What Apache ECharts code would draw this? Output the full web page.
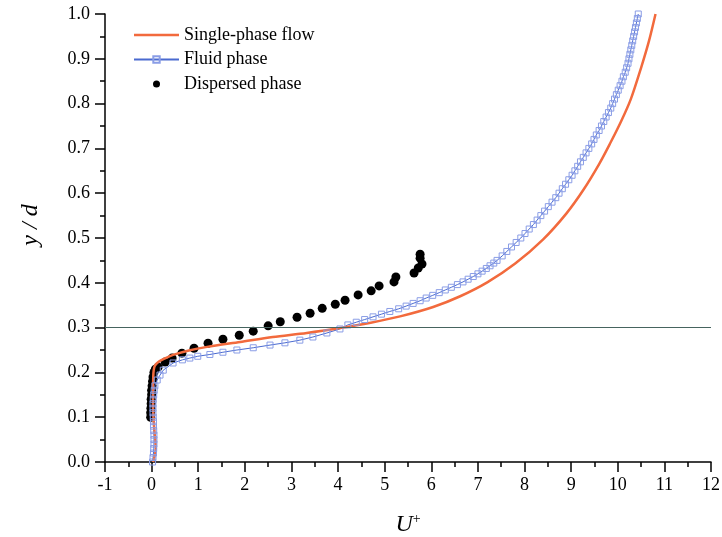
<!DOCTYPE html>
<html>
<head>
<meta charset="utf-8">
<script src="https://cdn.jsdelivr.net/npm/echarts@6/dist/echarts.min.js"></script>
<style>
html, body { margin: 0; padding: 0; background: #fff; }
#chart { width: 722px; height: 537px; }
</style>
</head>
<body>
<div id="chart"></div>
<script>
// values (U+ , y/d)
const singleU = [0.03, 0.07, 0.09, 0.08, 0.06, 0.04, 0.03, 0.03, 0.035, 0.045,
  0.07, 0.15, 0.30, 0.46, 0.80, 1.19, 1.90, 2.60, 3.33, 4.04,
  4.70, 5.33, 6.04, 6.62, 7.20, 7.80, 8.40, 8.90, 9.26, 9.60,
  9.84, 10.07, 10.28, 10.50, 10.67, 10.81];
const singleY = [0.000, 0.015, 0.030, 0.050, 0.070, 0.100, 0.130, 0.160, 0.190, 0.205,
  0.215, 0.224, 0.232, 0.239, 0.249, 0.257, 0.268, 0.279, 0.288, 0.299,
  0.311, 0.325, 0.346, 0.370, 0.401, 0.443, 0.497, 0.555, 0.607, 0.665,
  0.712, 0.760, 0.810, 0.880, 0.940, 1.000];

const fluidU = [0.02, 0.03, 0.04, 0.045, 0.05, 0.05, 0.05, 0.045, 0.04, 0.04,
  0.035, 0.03, 0.03, 0.03, 0.035, 0.045, 0.055, 0.07,
  0.12, 0.18, 0.25, 0.46, 0.66, 0.82, 0.99, 1.25, 1.53, 1.83,
  2.18, 2.54, 2.86, 3.18, 3.46, 3.76, 4.04,
  4.21, 4.39, 4.57, 4.75, 4.93, 5.11, 5.30, 5.46, 5.61, 5.76,
  5.89, 6.03, 6.17, 6.30, 6.43, 6.56, 6.68, 6.79, 6.90, 7.00,
  7.09, 7.18, 7.26, 7.34, 7.41,
  7.52, 7.62, 7.72, 7.82, 7.92, 8.01, 8.10, 8.19, 8.27, 8.35,
  8.43, 8.51, 8.59, 8.67, 8.74, 8.81, 8.88, 8.95, 9.02, 9.08,
  9.14, 9.20, 9.26, 9.32, 9.38, 9.44, 9.49, 9.54, 9.60, 9.65,
  9.70, 9.75, 9.80, 9.85, 9.89, 9.93, 9.97, 10.01, 10.05, 10.09,
  10.12, 10.16, 10.19, 10.22, 10.24, 10.26, 10.28, 10.30, 10.32, 10.34,
  10.36, 10.38, 10.40, 10.42, 10.44];
const fluidY = [0.00, 0.01, 0.02, 0.03, 0.04, 0.05, 0.06, 0.07, 0.08, 0.09,
  0.10, 0.11, 0.12, 0.13, 0.14, 0.15, 0.16, 0.17,
  0.183, 0.194, 0.205, 0.221, 0.228, 0.232, 0.236, 0.240, 0.245, 0.250,
  0.255, 0.261, 0.266, 0.272, 0.279, 0.288, 0.297,
  0.306, 0.312, 0.318, 0.324, 0.330, 0.336, 0.342, 0.348, 0.354, 0.360,
  0.366, 0.372, 0.378, 0.384, 0.390, 0.396, 0.402, 0.408, 0.414, 0.420,
  0.426, 0.432, 0.438, 0.444, 0.450,
  0.46, 0.47, 0.48, 0.49, 0.50, 0.51, 0.52, 0.53, 0.54, 0.55,
  0.56, 0.57, 0.58, 0.59, 0.60, 0.61, 0.62, 0.63, 0.64, 0.65,
  0.66, 0.67, 0.68, 0.69, 0.70, 0.71, 0.72, 0.73, 0.74, 0.75,
  0.76, 0.77, 0.78, 0.79, 0.80, 0.81, 0.82, 0.83, 0.84, 0.85,
  0.86, 0.87, 0.88, 0.89, 0.90, 0.91, 0.92, 0.93, 0.94, 0.95,
  0.96, 0.97, 0.98, 0.99, 1.00];

const dispU = [-0.02, -0.02, -0.015, -0.01, -0.01, 0.0, 0.0, 0.01, 0.02, 0.03,
  0.05, 0.08, 0.14, 0.29, 0.44, 0.65, 0.91, 1.21, 1.53, 1.88,
  2.18, 2.50, 2.76, 3.12, 3.40, 3.66, 3.94, 4.15, 4.43, 4.71,
  4.88, 5.20, 5.24, 5.63, 5.72, 5.80, 5.76, 5.76];
const dispY = [0.10, 0.11, 0.12, 0.13, 0.14, 0.15, 0.16, 0.17, 0.18, 0.19,
  0.200, 0.207, 0.212, 0.223, 0.232, 0.243, 0.254, 0.265, 0.274, 0.283,
  0.292, 0.304, 0.313, 0.323, 0.332, 0.343, 0.352, 0.361, 0.373, 0.382,
  0.393, 0.402, 0.413, 0.422, 0.433, 0.442, 0.455, 0.464];

const refLineY = 0.3;
const seriesNames = ['Single-phase flow', 'Fluid phase', 'Dispersed phase'];

const serif = 'Liberation Serif, Times New Roman, serif';
const pairs = (xs, ys) => xs.map((x, i) => [x, ys[i]]);

const chart = echarts.init(document.getElementById('chart'));

const axisCommon = {
  type: 'value',
  splitLine: { show: false },
  axisLine: { show: true, onZero: false, lineStyle: { color: '#000', width: 1.5 } },
  axisTick: { show: true, length: 10, lineStyle: { color: '#000', width: 1.5 } },
  minorTick: { show: true, splitNumber: 2, length: 5, lineStyle: { color: '#000', width: 1.5 } },
  axisLabel: { color: '#000', fontFamily: serif, fontSize: 18 },
  nameLocation: 'middle'
};

chart.setOption({
  animation: false,
  backgroundColor: '#fff',
  grid: { left: 105, right: 11, top: 14, bottom: 75, outerBoundsMode: 'none' },
  legend: {
    orient: 'vertical',
    left: 128,
    top: 21,
    itemWidth: 45,
    itemHeight: 8,
    itemGap: 6.5,
    textStyle: { color: '#000', fontFamily: serif, fontSize: 18 },
    data: [
      { name: seriesNames[0], icon: 'path://M0,0M45,8M0,2.75h45v2.5h-45z' },
      { name: seriesNames[1] },
      { name: seriesNames[2], icon: 'path://M0,0M8,8M0.5,4a3.5,3.5 0 1,0 7,0a3.5,3.5 0 1,0 -7,0' }
    ]
  },
  xAxis: Object.assign({}, axisCommon, {
    min: -1, max: 12, interval: 1,
    axisLabel: Object.assign({}, axisCommon.axisLabel, { margin: 14 }),
    name: '{u|U}{s|+}',
    nameGap: 50,
    nameTextStyle: {
      rich: {
        u: { fontFamily: serif, fontStyle: 'italic', fontSize: 24, lineHeight: 26, color: '#000' },
        s: { fontFamily: serif, fontSize: 14, verticalAlign: 'top', lineHeight: 26, color: '#000' }
      }
    }
  }),
  yAxis: Object.assign({}, axisCommon, {
    min: 0, max: 1, interval: 0.1,
    axisLabel: Object.assign({}, axisCommon.axisLabel, { margin: 15, formatter: v => v.toFixed(1) }),
    name: 'y / d',
    nameGap: 62,
    nameRotate: 90,
    nameTextStyle: { fontFamily: serif, fontStyle: 'italic', fontSize: 24, color: '#000', padding: [0, 0, 0, 26] }
  }),
  series: [
    {
      name: seriesNames[1],
      type: 'line',
      data: pairs(fluidU, fluidY),
      symbol: 'rect',
      symbolSize: 6,
      showAllSymbol: true,
      lineStyle: { color: '#4a6ad0', width: 1 },
      itemStyle: { color: 'rgba(255,255,255,0)', borderColor: '#8a9de6', borderWidth: 1 }
    },
    {
      name: seriesNames[2],
      type: 'scatter',
      data: pairs(dispU, dispY),
      symbolSize: 9,
      itemStyle: { color: '#000', opacity: 1 }
    },
    {
      name: seriesNames[0],
      type: 'line',
      data: pairs(singleU, singleY),
      symbol: 'none',
      smooth: 0.3,
      lineStyle: { color: '#f26a3d', width: 2.5 },
      itemStyle: { color: '#f26a3d' },
      markLine: {
        silent: true,
        symbol: ['none', 'none'],
        label: { show: false },
        lineStyle: { color: '#46645f', width: 1.2, type: 'solid' },
        data: [{ yAxis: refLineY }]
      }
    }
  ]
});
</script>
</body>
</html>
